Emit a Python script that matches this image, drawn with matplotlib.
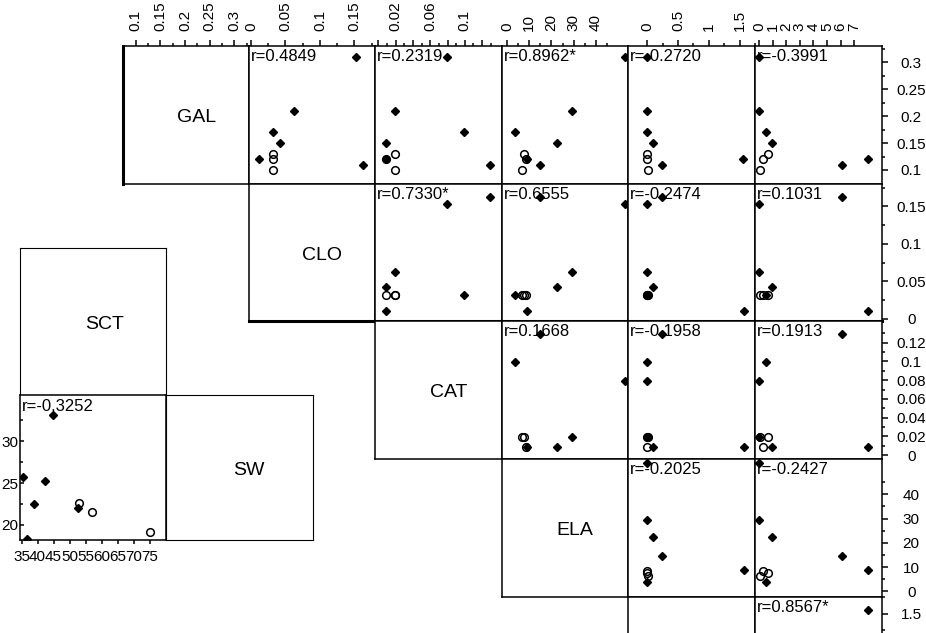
import numpy as np
import matplotlib.pyplot as plt

plt.rcParams['font.family'] = ['Liberation Sans', 'DejaVu Sans']

W, H = 926, 633

# 6 samples of group 1 (filled diamonds), then 3 of group 2 (open circles)
group = np.array([0, 0, 0, 0, 0, 0, 1, 1, 1])
gal = [0.31, 0.21, 0.17, 0.15, 0.12, 0.11, 0.13, 0.12, 0.10]
clo = [0.153, 0.062, 0.032, 0.042, 0.011, 0.163, 0.032, 0.032, 0.032]
cat = [0.079, 0.019, 0.099, 0.009, 0.009, 0.129, 0.019, 0.009, 0.019]
ela = [53.0, 29.4, 3.7, 22.4, 9.0, 14.7, 7.5, 8.6, 6.5]
v5 = [0.0, 0.0, 0.0, 0.1, 1.56, 0.24, 0.0, 0.0, 0.02]
v6 = [0.0, 0.0, 0.5, 0.95, 8.0, 6.1, 0.66, 0.3, 0.07]

sct = [44.9, 35.5, 42.3, 38.9, 52.5, 36.8, 52.9, 56.9, 75.1]
sw = [33.1, 25.7, 25.2, 22.5, 22.0, 18.3, 22.6, 21.5, 19.2]

names = ['GAL', 'CLO', 'CAT', 'ELA', '', '']
variables = [gal, clo, cat, ela, v5, v6]
r_text = {(0, 1): 'r=0.4849', (0, 2): 'r=0.2319', (0, 3): 'r=0.8962*',
          (0, 4): 'r=-0.2720', (0, 5): 'r=-0.3991',
          (1, 2): 'r=0.7330*', (1, 3): 'r=0.6555', (1, 4): 'r=-0.2474',
          (1, 5): 'r=0.1031',
          (2, 3): 'r=0.1668', (2, 4): 'r=-0.1958', (2, 5): 'r=0.1913',
          (3, 4): 'r=-0.2025', (3, 5): 'r=-0.2427',
          (4, 5): 'r=0.8567*'}
r_sct_sw = 'r=-0.3252'

lims = [(0.074, 0.33), (-0.003, 0.18), (-0.004, 0.143),
        (-2.3, 54.5), (-0.31, 1.74), (-0.3, 9.05)]
major = [[0.1, 0.15, 0.2, 0.25, 0.3],
         [0, 0.05, 0.1, 0.15],
         [0, 0.02, 0.04, 0.06, 0.08, 0.1, 0.12],
         [0, 10, 20, 30, 40],
         [0, 0.5, 1, 1.5],
         [0, 1, 2, 3, 4, 5, 6, 7]]
minor = [[0.125, 0.175, 0.225, 0.275, 0.325],
         [0.025, 0.075, 0.125, 0.175],
         [0.01, 0.03, 0.05, 0.07, 0.09, 0.11, 0.13],
         [5, 15, 25, 35, 45],
         [0.25, 0.75, 1.25, 1.75],
         []]
# top axis labels left out where the original drops them
top_skip = {2: [0, 0.04, 0.08, 0.12]}
# the V5 row runs past the bottom edge: only 1.5 is visible there
right_major = {4: [1.5]}
right_minor = {4: [1.25, 1.75]}

x_edges = [123, 249, 375, 502, 628, 755, 882]
y_edges = [46, 184, 321, 459, 597, 735, 873]


def px_axes(fig, x0, y0, x1, y1):
    return fig.add_axes([x0 / W, 1 - y1 / H, (x1 - x0) / W, (y1 - y0) / H])


def fmt(v):
    return '%g' % v


def draw_points(ax, x, y):
    x = np.asarray(x)
    y = np.asarray(y)
    a = group == 0
    ax.plot(x[a], y[a], 'D', ms=3.7, color='black', ls='none')
    ax.plot(x[~a], y[~a], 'o', ms=5.5, mfc='none', mec='black', mew=1.1, ls='none')


fig = plt.figure(figsize=(W / 100, H / 100), dpi=100)

for i in range(6):
    if y_edges[i] >= H:
        break
    for j in range(i, 6):
        ax = px_axes(fig, x_edges[j], y_edges[i], x_edges[j + 1], y_edges[i + 1])
        ax.set_xlim(lims[j])
        ax.set_ylim(lims[i])
        for s in ax.spines.values():
            s.set_linewidth(1.1)
        ax.tick_params(bottom=False, left=False, labelbottom=False, labelleft=False)
        if i == j:
            if names[i]:
                ax.text(0.58, 0.48, names[i], transform=ax.transAxes,
                        ha='center', va='center', fontsize=14)
        else:
            draw_points(ax, variables[j], variables[i])
            ax.text(0.015, 0.975, r_text[(i, j)], transform=ax.transAxes,
                    ha='left', va='top', fontsize=12)
        if i == 1:
            ax.spines['bottom'].set_linewidth(2.2)
        if i == 0 and j == 0:
            ax.spines['left'].set_linewidth(2.2)
        if i == 0:
            ax.set_xticks(major[j])
            labels = [fmt(v) if v not in top_skip.get(j, []) else '' for v in major[j]]
            ax.set_xticklabels(labels, rotation=90)
            ax.set_xticks(minor[j], minor=True)
            ax.tick_params(axis='x', which='both', top=True, labeltop=True,
                           bottom=False, labelbottom=False)
            ax.tick_params(axis='x', which='major', direction='out', length=4,
                           width=1.1, labelsize=11, pad=7)
            ax.tick_params(axis='x', which='minor', direction='out', length=2, width=1.1)
        else:
            ax.set_xticks([])
        if j == 5:
            ticks = right_major.get(i, major[i])
            ax.set_yticks(ticks)
            ax.set_yticklabels([fmt(v) for v in ticks])
            ax.set_yticks(right_minor.get(i, minor[i]), minor=True)
            ax.tick_params(axis='y', which='both', right=True, labelright=True,
                           left=False, labelleft=False)
            ax.tick_params(axis='y', which='major', direction='out', length=4,
                           width=1.1, labelsize=11, pad=17)
            ax.tick_params(axis='y', which='minor', direction='out', length=2, width=1.1)
            for lab in ax.get_yticklabels():
                lab.set_horizontalalignment('center')
        else:
            ax.set_yticks([])

# separate block for SCT and SW
ax = px_axes(fig, 20, 248, 166, 395)
ax.set_xticks([])
ax.set_yticks([])
ax.text(0.58, 0.48, 'SCT', transform=ax.transAxes, ha='center', va='center', fontsize=14)

ax = px_axes(fig, 166, 395, 313, 540)
ax.set_xticks([])
ax.set_yticks([])
ax.text(0.56, 0.48, 'SW', transform=ax.transAxes, ha='center', va='center', fontsize=14)

ax = px_axes(fig, 20, 395, 166, 540)
draw_points(ax, sct, sw)
ax.set_xlim(34.5, 80.1)
ax.set_ylim(18.2, 35.5)
ax.set_xticks([35, 40, 45, 50, 55, 60, 65, 70, 75])
ax.set_yticks([20, 25, 30])
ax.set_yticks([22.5, 27.5, 32.5], minor=True)
ax.tick_params(axis='x', direction='out', length=3, width=1.1, labelsize=11, pad=4)
ax.tick_params(axis='y', which='major', direction='in', length=3, width=1.1,
               labelsize=11, pad=1)
ax.tick_params(axis='y', which='minor', direction='in', length=2, width=1.1)
for s in ax.spines.values():
    s.set_linewidth(1.1)
ax.text(0.015, 0.975, r_sct_sw, transform=ax.transAxes, ha='left', va='top', fontsize=12)

fig.savefig('out.png', dpi=100)
